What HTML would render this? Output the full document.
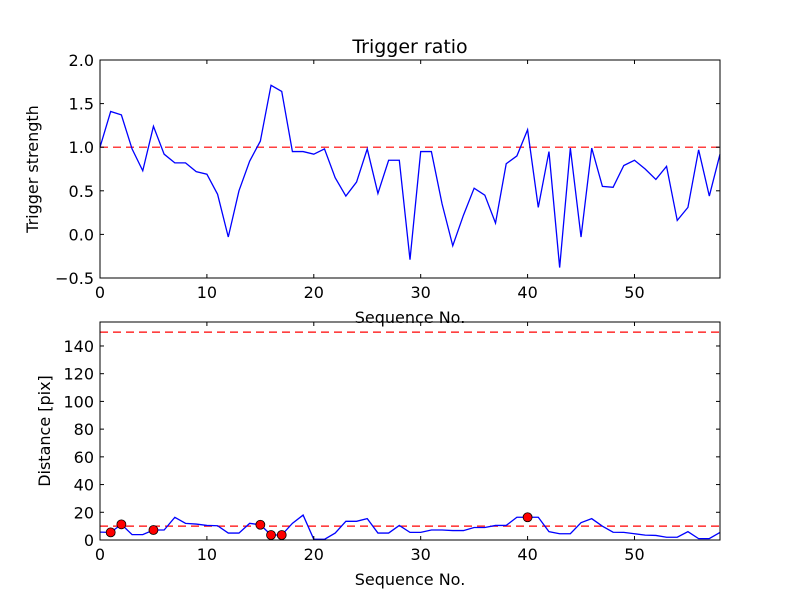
<!DOCTYPE html>
<html><head><meta charset="utf-8"><style>
body{margin:0;background:#fff;}
svg{display:block;font-family:"DejaVu Sans","Liberation Sans",sans-serif;}
</style></head><body>
<svg id="chart" width="800" height="600" viewBox="0 0 800 600"></svg>
<script>
const seqX = Array.from({length:59},(_, i)=>i);
const strength = [1.0,1.41,1.37,0.98,0.73,1.24,0.92,0.82,0.82,0.72,0.69,0.46,-0.03,0.5,0.84,1.07,1.71,1.64,0.95,0.95,0.92,0.98,0.65,0.44,0.6,0.98,0.47,0.85,0.85,-0.29,0.95,0.95,0.35,-0.13,0.22,0.53,0.45,0.13,0.81,0.9,1.2,0.31,0.95,-0.38,0.99,-0.03,0.99,0.55,0.54,0.79,0.85,0.75,0.63,0.78,0.16,0.31,0.97,0.44,0.92];
const distance = [5.7,5.5,11.3,3.9,3.9,7.2,7.2,16.4,12,11.5,10.5,10.3,5,5,12,11,3.6,3.6,12,18,0.5,0.5,5,13.5,13.5,15.4,5,5,10.5,5.5,5.5,7.2,7.2,6.8,6.8,9,9,10.5,10.5,16.4,16.4,16.4,6,4.5,4.5,12.5,15.4,10,5.6,5.5,4.5,3.5,3.3,2,2,6,1,1,5.5];
const markerIdx = [1,2,5,15,16,17,40];
const topYTicks = [-0.5,0.0,0.5,1.0,1.5,2.0];
const topYLabels = ["\u22120.5","0.0","0.5","1.0","1.5","2.0"];
const botYTicks = [0,20,40,60,80,100,120,140];
const xTicks = [0,10,20,30,40,50];
const topThreshold = 1.0;
const botThreshold = 150;
const botThreshold2 = 10;

const svg=document.getElementById('chart');
const NS='http://www.w3.org/2000/svg';
function mk(tag,attrs,parent){const e=document.createElementNS(NS,tag);for(const k in attrs)e.setAttribute(k,attrs[k]);(parent||svg).appendChild(e);return e;}
const X0=100,X1=720,xmin=0,xmax=58;
const xs=v=>X0+(v-xmin)/(xmax-xmin)*(X1-X0);
function panel(top,bot,ymin,ymax){
  return v=>bot-(v-ymin)/(ymax-ymin)*(bot-top);
}
const ysT=panel(60,278,-0.5,2.0);
const ysB=panel(322,540,0,157.3);

function axes(top,bot,ys,yt,yl,name){
  const g=mk('g',{});
  
  
  xTicks.forEach(t=>{
    const x=xs(t);
    mk('line',{x1:x,x2:x,y1:bot,y2:bot-4,stroke:'#000'},g);
    mk('line',{x1:x,x2:x,y1:top,y2:top+4,stroke:'#000'},g);
    const tx=mk('text',{x:x,y:bot+20,'font-size':16,'text-anchor':'middle'},g);
    tx.textContent=t;
    
    
  });
  yt.forEach((t,i)=>{
    const y=ys(t);
    mk('line',{x1:X0,x2:X0+4,y1:y,y2:y,stroke:'#000'},g);
    mk('line',{x1:X1,x2:X1-4,y1:y,y2:y,stroke:'#000'},g);
    const tx=mk('text',{x:X0-6,y:y+6,'font-size':16,'text-anchor':'end'},g);
    tx.textContent=yl[i];
    
    
  });
  return g;
}
function line(pts,name){
  const p=mk('polyline',{points:pts.join(' '),fill:'none',stroke:'#0000ff','stroke-width':1.3});
  
  
}
function dash(y,name){
  const l=mk('line',{x1:X0,x2:X1,y1:y,y2:y,stroke:'#ff0000','stroke-width':1.2,'stroke-dasharray':'8,5'});
  
  
}
function frame(top,bot,name){
  const r=mk('rect',{x:X0,y:top,width:X1-X0,height:bot-top,fill:'none',stroke:'#000','stroke-width':1});
  
  
}
function text(x,y,s,size,name,rot){
  const t=mk('text',{x:x,y:y,'font-size':size,'text-anchor':'middle'});
  if(rot)t.setAttribute('transform','rotate(-90 '+x+' '+y+')');
  t.textContent=s;
  
  
}
dash(ysT(topThreshold),'threshold-line-top');
line(seqX.map((x,i)=>xs(x)+','+ysT(strength[i])),'trigger-strength-line');
axes(60,278,ysT,topYTicks,topYLabels,'top');
frame(60,278,'top-plot-frame');
text(410,53,'Trigger ratio',19,'chart-title');
text(410,323,'Sequence No.',16,'top-x-axis-title');
text(38,169,'Trigger strength',16,'top-y-axis-title',true);
dash(ysB(botThreshold),'threshold-line-150');
dash(ysB(botThreshold2),'threshold-line-10');
line(seqX.map((x,i)=>xs(x)+','+ysB(distance[i])),'distance-line');
markerIdx.forEach(i=>{
  const c=mk('circle',{cx:xs(seqX[i]),cy:ysB(distance[i]),r:4.5,fill:'#ff0000',stroke:'#000','stroke-width':0.8});
  
  
});
axes(322,540,ysB,botYTicks,botYTicks.map(String),'bottom');
frame(322,540,'bottom-plot-frame');
text(410,585,'Sequence No.',16,'bottom-x-axis-title');
text(50,431,'Distance [pix]',16,'bottom-y-axis-title',true);
</script>
</body></html>
